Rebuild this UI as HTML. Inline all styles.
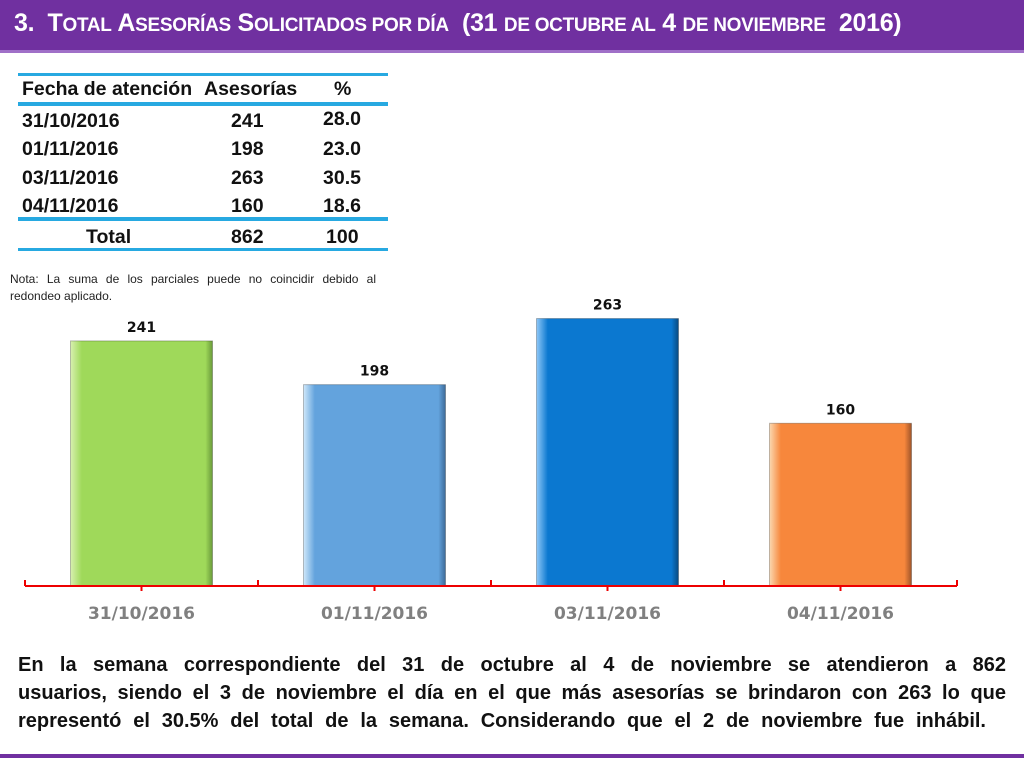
<!DOCTYPE html>
<html><head><meta charset="utf-8"><style>
body{margin:0;width:1024px;height:768px;background:#fff;position:relative;overflow:hidden;font-family:"Liberation Sans",sans-serif}
.a{position:absolute}
.t{position:absolute;font-weight:bold;font-size:19.5px;color:#111;white-space:nowrap}
.ln{position:absolute;left:18px;width:370px;background:#27a9e1}
.pl{display:block;text-align:justify;text-align-last:justify;white-space:nowrap}
</style></head><body>
<div class="a" style="left:0;top:0;width:1024px;height:50px;background:#7030a0;border-bottom:3px solid #a070c8"></div>
<div class="a" style="left:14px;top:9px;color:#fff;font-weight:bold;font-size:25px;white-space:nowrap;letter-spacing:-0.3px">3.&nbsp; T<span style="font-size:19px">OTAL</span> A<span style="font-size:19px">SESORÍAS</span> S<span style="font-size:19px">OLICITADOS POR DÍA</span>&nbsp; (31 <span style="font-size:19px">DE OCTUBRE AL</span> 4 <span style="font-size:19px">DE NOVIEMBRE</span>&nbsp; 2016)</div>

<div>
<div class="ln" style="top:73px;height:3px"></div>
<div class="ln" style="top:102px;height:4px"></div>
<div class="ln" style="top:217px;height:4px"></div>
<div class="ln" style="top:248px;height:3px"></div>
<div class="t" style="left:22px;top:78px">Fecha de atención</div>
<div class="t" style="left:204px;top:78px">Asesorías</div>
<div class="t" style="left:334px;top:78px">%</div>
<div class="t" style="left:22px;top:110px">31/10/2016</div><div class="t" style="left:231px;top:110px">241</div><div class="t" style="left:323px;top:108px">28.0</div>
<div class="t" style="left:22px;top:138px">01/11/2016</div><div class="t" style="left:231px;top:138px">198</div><div class="t" style="left:323px;top:138px">23.0</div>
<div class="t" style="left:22px;top:167px">03/11/2016</div><div class="t" style="left:231px;top:167px">263</div><div class="t" style="left:323px;top:167px">30.5</div>
<div class="t" style="left:22px;top:195px">04/11/2016</div><div class="t" style="left:231px;top:195px">160</div><div class="t" style="left:323px;top:195px">18.6</div>
<div class="t" style="left:86px;top:226px">Total</div><div class="t" style="left:231px;top:226px">862</div><div class="t" style="left:326px;top:226px">100</div>
</div>
<div class="a" style="left:10px;top:271px;width:366px;font-size:12px;color:#222;text-align:justify;line-height:17px">Nota: La suma de los parciales puede no coincidir debido al redondeo aplicado.</div>

<svg class="a" style="left:0;top:0" width="1024" height="768">
<defs>
<linearGradient id="g0" x1="0" x2="1"><stop offset="0" stop-color="#d8f0b0"/><stop offset="0.08" stop-color="#9fd95a"/><stop offset="0.95" stop-color="#9fd95a"/><stop offset="1" stop-color="#6a9a3a"/></linearGradient>
<linearGradient id="g1" x1="0" x2="1"><stop offset="0" stop-color="#d0e8fa"/><stop offset="0.08" stop-color="#63a3dd"/><stop offset="0.95" stop-color="#63a3dd"/><stop offset="1" stop-color="#3d6a98"/></linearGradient>
<linearGradient id="g2" x1="0" x2="1"><stop offset="0" stop-color="#8fc8f8"/><stop offset="0.08" stop-color="#0b78d0"/><stop offset="0.95" stop-color="#0b78d0"/><stop offset="1" stop-color="#0a4a80"/></linearGradient>
<linearGradient id="g3" x1="0" x2="1"><stop offset="0" stop-color="#fbd8b0"/><stop offset="0.08" stop-color="#f7873c"/><stop offset="0.95" stop-color="#f7873c"/><stop offset="1" stop-color="#a0552a"/></linearGradient>
</defs>
<g id="bars"></g>
</svg>
<script>
const categories=["31/10/2016","01/11/2016","03/11/2016","04/11/2016"];
const values=[241,198,263,160];
const svg=document.getElementById('bars');
const NS="http://www.w3.org/2000/svg";
const x0=25,band=233,base=586,scale=1.017,bw=142;
function xPos(i){return x0+band*i+(band-bw)/2;}
function yPos(v){return base-v*scale;}
function mk(t,a){const e=document.createElementNS(NS,t);for(const k in a)e.setAttribute(k,a[k]);svg.appendChild(e);return e;}
values.forEach((v,i)=>{
 const r=mk('rect',{x:xPos(i),y:yPos(v),width:bw,height:base-yPos(v),fill:'url(#g'+i+')',stroke:'rgba(0,0,0,0.25)','stroke-width':1});
 
 
 const tl=mk('text',{x:xPos(i)+bw/2,y:yPos(v)-9,'text-anchor':'middle','font-family':'DejaVu Sans','font-weight':'bold','font-size':14,fill:'#111'});
 tl.textContent=v;
 
 
 const cl=mk('text',{x:x0+band*i+band/2,y:619,'text-anchor':'middle','font-family':'DejaVu Sans','font-weight':'bold','font-size':17,fill:'#808080'});
 cl.textContent=categories[i];
 
 
 const mt=mk('line',{x1:x0+band*i+band/2,x2:x0+band*i+band/2,y1:base,y2:base+5,stroke:'#e00',"stroke-width":2});
 
 
});
const ax=mk('line',{x1:x0,x2:x0+band*4,y1:base,y2:base,stroke:'#e00','stroke-width':2});


for(let i=0;i<=4;i++){
 const t=mk('line',{x1:x0+band*i,x2:x0+band*i,y1:base-6,y2:base,stroke:'#e00','stroke-width':2});
 
 
}
</script>

<div class="a" style="left:18px;top:651px;width:988px;font-size:20px;font-weight:bold;color:#111;line-height:28px">
<span class="pl">En la semana correspondiente del 31 de octubre al 4 de noviembre se atendieron a 862</span>
<span class="pl">usuarios, siendo el 3 de noviembre el día en el que más asesorías se brindaron con 263 lo que</span>
<span class="pl" style="width:968px">representó el 30.5% del total de la semana. Considerando que el 2 de noviembre fue inhábil.</span>
</div>
<div class="a" style="left:0;top:754px;width:1024px;height:4px;background:#7030a0"></div>
</body></html>
